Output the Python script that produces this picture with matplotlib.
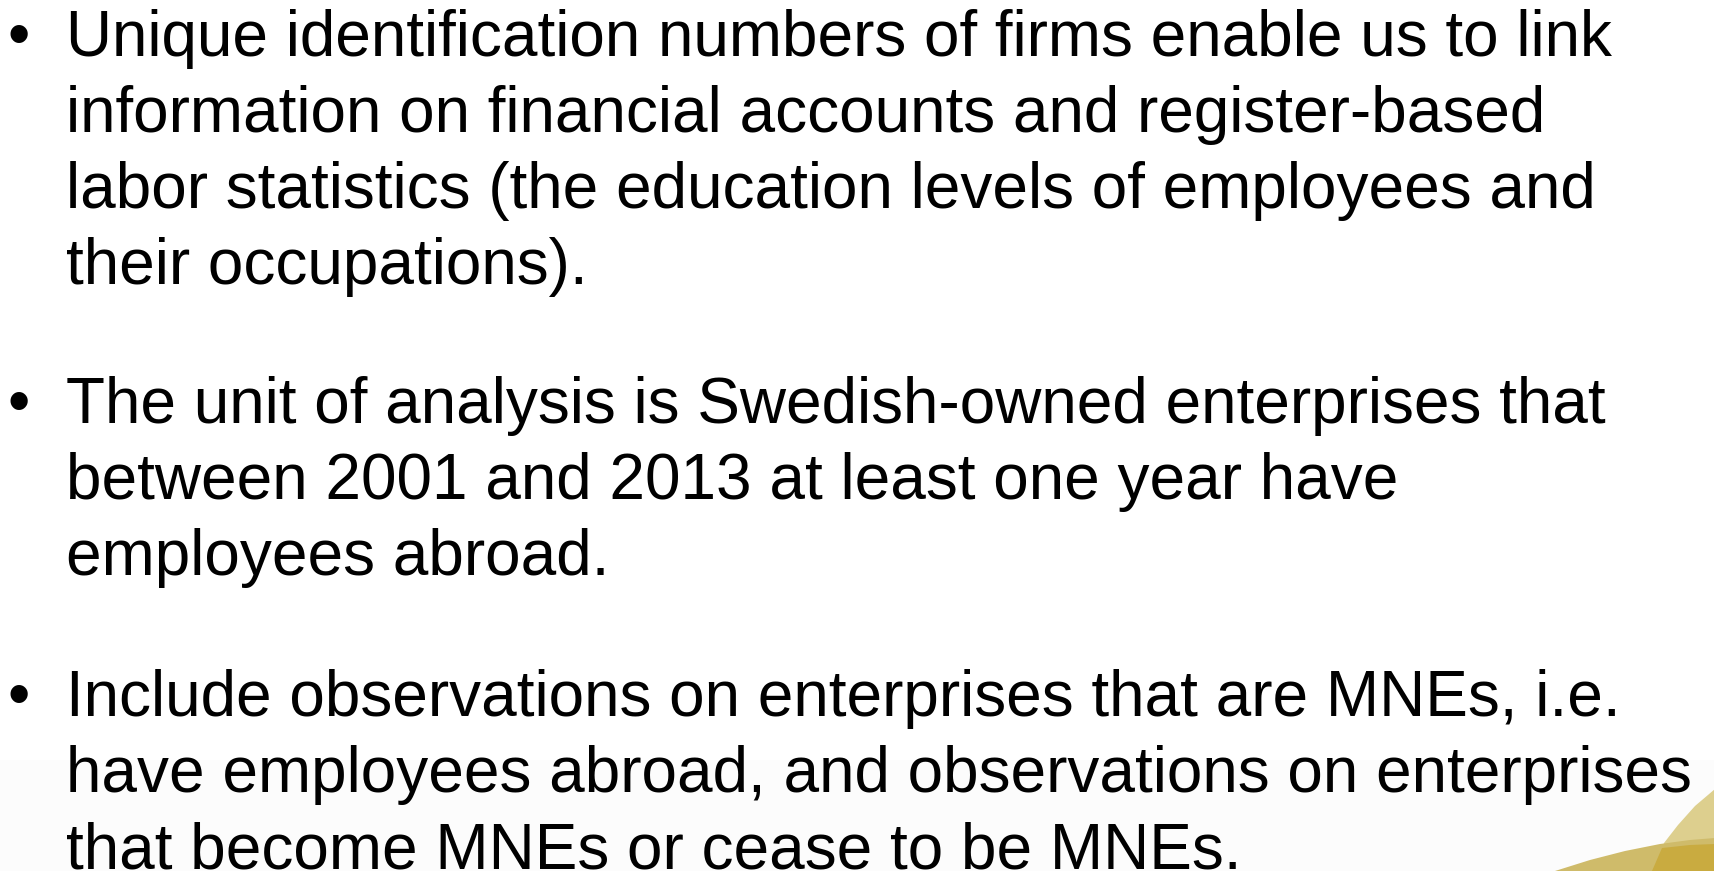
import matplotlib
matplotlib.use("Agg")
import matplotlib.pyplot as plt
from matplotlib.patches import Polygon, Rectangle

# ---------------------------------------------------------------- content
BULLETS = [
    [
        "Unique identification numbers of firms enable us to link",
        "information on financial accounts and register-based",
        "labor statistics (the education levels of employees and",
        "their occupations).",
    ],
    [
        "The unit of analysis is Swedish-owned enterprises that",
        "between 2001 and 2013 at least one year have",
        "employees abroad.",
    ],
    [
        "Include observations on enterprises that are MNEs, i.e.",
        "have employees abroad, and observations on enterprises",
        "that become MNEs or cease to be MNEs.",
    ],
]
FIRST_BASELINES = [56, 423, 716]   # pixel y of first line of each bullet
LINE_STEP = 76

# ---------------------------------------------------------------- layout
W, H = 1715, 871
TEXT_X = 66
BULLET_X = 19
FONT = "Liberation Sans"
FONTSIZE = 46

# corner decoration (pixel outlines)
LIGHT_GOLD = [(1655, 871), (1664, 843), (1678, 825), (1695, 806), (1715, 789), (1715, 871)]
MID_GOLD = [(1555, 871), (1590, 860), (1625, 851), (1660, 844), (1690, 840), (1715, 838), (1715, 871)]
DARK_GOLD = [(1652, 871), (1662, 848), (1690, 845), (1715, 844), (1715, 871)]

fig = plt.figure(figsize=(W / 100, H / 100), dpi=100)
ax = fig.add_axes([0, 0, 1, 1])
ax.set_xlim(0, W)
ax.set_ylim(H, 0)
ax.axis("off")

# faint grey footer band of the slide
ax.add_patch(Rectangle((0, 760), W, H - 760, color="#fcfcfc", lw=0, zorder=0))
ax.add_patch(Polygon(LIGHT_GOLD, closed=True, color="#ddcf8e", lw=0, zorder=1))
ax.add_patch(Polygon(MID_GOLD, closed=True, color="#cfbb6a", lw=0, zorder=2))
ax.add_patch(Polygon(DARK_GOLD, closed=True, color="#c9ab40", lw=0, zorder=3))

for lines, y0 in zip(BULLETS, FIRST_BASELINES):
    ax.text(BULLET_X, y0, "\u2022", fontsize=FONTSIZE, family=FONT,
            ha="center", va="baseline", color="black", zorder=5)
    for i, line in enumerate(lines):
        ax.text(TEXT_X, y0 + i * LINE_STEP, line, fontsize=FONTSIZE, family=FONT,
                ha="left", va="baseline", color="black", zorder=5)

fig.savefig("out.png", dpi=100, facecolor="white")
